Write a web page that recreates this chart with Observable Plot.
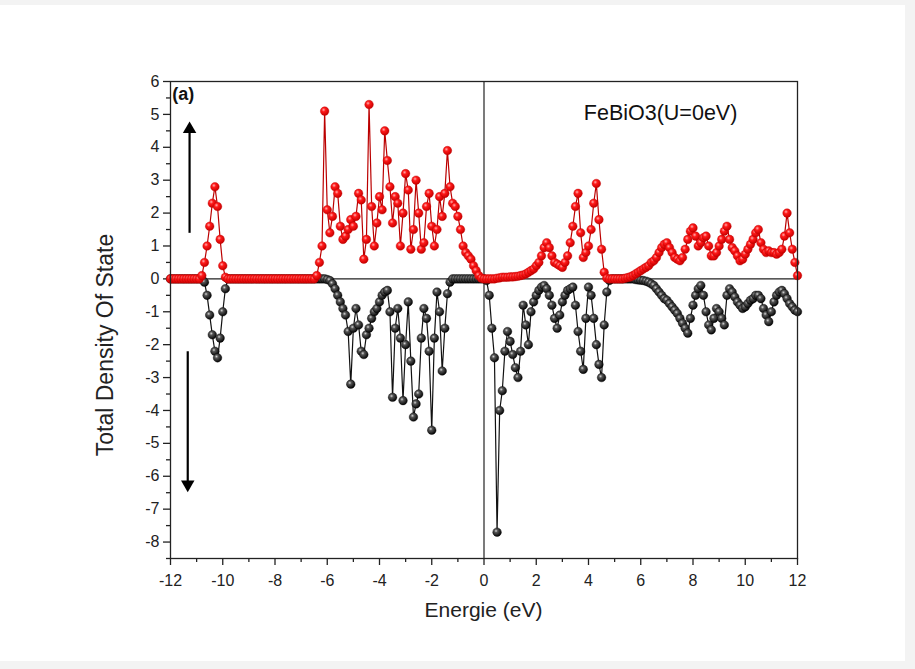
<!DOCTYPE html>
<html>
<head>
<meta charset="utf-8">
<script src="https://cdn.jsdelivr.net/npm/d3@7"></script>
<script src="https://cdn.jsdelivr.net/npm/@observablehq/plot@0.6"></script>
<style>
  html, body { margin: 0; padding: 0; background: #f3f3f3; }
  #wrap { position: absolute; left: 0; top: 5px; width: 905px; height: 656px; background: #fff; }
  svg { font-family: "Liberation Sans", Arial, sans-serif; }
</style>
</head>
<body>
<div id="wrap"></div>
<script>
// Energy grid (eV)
const energies = [
-12,-11.9,-11.8,-11.7,-11.6,-11.5,-11.4,-11.3,-11.2,-11.1,
-11,-10.9,-10.8,-10.7,-10.6,-10.5,-10.4,-10.3,-10.2,-10.1,
-10,-9.9,-9.8,-9.7,-9.6,-9.5,-9.4,-9.3,-9.2,-9.1,
-9,-8.9,-8.8,-8.7,-8.6,-8.5,-8.4,-8.3,-8.2,-8.1,
-8,-7.9,-7.8,-7.7,-7.6,-7.5,-7.4,-7.3,-7.2,-7.1,
-7,-6.9,-6.8,-6.7,-6.6,-6.5,-6.4,-6.3,-6.2,-6.1,
-6,-5.9,-5.8,-5.7,-5.6,-5.5,-5.4,-5.3,-5.2,-5.1,
-5,-4.9,-4.8,-4.7,-4.6,-4.5,-4.4,-4.3,-4.2,-4.1,
-4,-3.9,-3.8,-3.7,-3.6,-3.5,-3.4,-3.3,-3.2,-3.1,
-3,-2.9,-2.8,-2.7,-2.6,-2.5,-2.4,-2.3,-2.2,-2.1,
-2,-1.9,-1.8,-1.7,-1.6,-1.5,-1.4,-1.3,-1.2,-1.1,
-1,-0.9,-0.8,-0.7,-0.6,-0.5,-0.4,-0.3,-0.2,-0.1,
0,0.1,0.2,0.3,0.4,0.5,0.6,0.7,0.8,0.9,
1,1.1,1.2,1.3,1.4,1.5,1.6,1.7,1.8,1.9,
2,2.1,2.2,2.3,2.4,2.5,2.6,2.7,2.8,2.9,
3,3.1,3.2,3.3,3.4,3.5,3.6,3.7,3.8,3.9,
4,4.1,4.2,4.3,4.4,4.5,4.6,4.7,4.8,4.9,
5,5.1,5.2,5.3,5.4,5.5,5.6,5.7,5.8,5.9,
6,6.1,6.2,6.3,6.4,6.5,6.6,6.7,6.8,6.9,
7,7.1,7.2,7.3,7.4,7.5,7.6,7.7,7.8,7.9,
8,8.1,8.2,8.3,8.4,8.5,8.6,8.7,8.8,8.9,
9,9.1,9.2,9.3,9.4,9.5,9.6,9.7,9.8,9.9,
10,10.1,10.2,10.3,10.4,10.5,10.6,10.7,10.8,10.9,
11,11.1,11.2,11.3,11.4,11.5,11.6,11.7,11.8,11.9,
12
];

// Spin-up total DOS (red)
const spinUp = [
0,0,0,0,0,0,0,0,0,0,
0,0,0.1,0.5,1.0,1.6,2.3,2.8,2.2,1.2,
0.4,0.05,0,0,0,0,0,0,0,0,
0,0,0,0,0,0,0,0,0,0,
0,0,0,0,0,0,0,0,0,0,
0,0,0,0,0,0,0.1,0.5,1.0,5.1,
2.1,1.4,1.9,2.8,2.6,1.6,1.2,1.3,1.5,1.8,
1.6,1.9,2.6,2.4,0.6,1.2,5.3,2.2,1.0,1.7,
2.5,2.1,4.5,3.6,2.8,1.7,2.5,2.3,1.0,2.0,
3.2,2.7,0.9,1.5,3.0,2.0,0.9,1.1,2.2,2.6,
1.6,1.0,1.5,2.5,1.9,2.6,3.9,2.8,2.3,2.2,
1.9,1.5,1.0,0.8,0.7,0.6,0.4,0.25,0.1,0.02,
0,0,0,0,0,0.02,0.03,0.05,0.05,0.05,
0.06,0.06,0.07,0.08,0.1,0.12,0.15,0.2,0.25,0.3,
0.4,0.5,0.7,0.95,1.1,0.95,0.7,0.5,0.45,0.4,
0.35,0.5,0.7,1.1,1.6,2.2,2.6,1.4,0.65,0.8,
1.0,1.5,2.3,2.9,1.8,0.9,0.2,0.02,0,0,
0,0,0,0,0.02,0.04,0.06,0.1,0.15,0.2,
0.25,0.3,0.35,0.4,0.5,0.55,0.65,0.8,0.95,1.05,
1.1,0.95,0.8,0.65,0.6,0.55,0.65,0.9,1.2,1.45,
1.55,1.3,1.0,1.1,1.25,1.3,1.0,0.7,0.7,0.8,
1.0,1.2,1.45,1.6,1.2,0.95,0.85,0.7,0.55,0.6,
0.75,0.9,1.05,1.2,1.4,1.5,1.1,0.9,0.8,0.85,
0.8,0.8,0.75,0.8,0.9,1.3,2.0,1.4,0.9,0.5,
0.1
];

// Spin-down total DOS (black)
const spinDown = [
0,0,0,0,0,0,0,0,0,0,
0,0,0,-0.1,-0.5,-1.1,-1.7,-2.2,-2.4,-1.8,
-1.0,-0.3,0,0,0,0,0,0,0,0,
0,0,0,0,0,0,0,0,0,0,
0,0,0,0,0,0,0,0,0,0,
0,0,0,0,0,0,0,0,0,0,
-0.02,-0.05,-0.15,-0.3,-0.5,-0.7,-0.9,-1.1,-1.6,-3.2,
-1.5,-0.9,-1.4,-2.2,-2.3,-1.7,-1.5,-1.2,-1.0,-0.9,
-0.7,-0.5,-0.4,-0.35,-1.0,-3.6,-1.5,-0.9,-1.8,-3.7,
-2.0,-0.7,-2.5,-4.2,-3.8,-3.5,-1.8,-0.9,-1.2,-2.2,
-4.6,-1.8,-0.4,-1.0,-2.8,-1.5,-0.45,-0.1,0,0,
0,0,0,0,0,0,0,0,0,0,
0,-0.05,-0.5,-1.5,-2.4,-7.7,-4.0,-3.4,-2.2,-1.6,
-1.9,-2.3,-2.7,-3.0,-2.2,-0.8,-1.4,-2.0,-1.0,-0.7,
-0.5,-0.35,-0.25,-0.2,-0.3,-0.5,-0.8,-1.2,-1.5,-1.1,
-0.7,-0.5,-0.35,-0.3,-0.25,-0.8,-1.6,-2.2,-2.75,-1.2,
-0.25,-0.5,-1.2,-2.0,-2.6,-3.0,-1.4,-0.4,-0.05,0,
0,0,0,0,0,0,0,0,-0.02,-0.03,
-0.04,-0.05,-0.07,-0.1,-0.15,-0.2,-0.3,-0.4,-0.5,-0.6,
-0.65,-0.75,-0.85,-0.95,-1.05,-1.2,-1.35,-1.5,-1.65,-1.2,
-0.8,-0.5,-0.3,-0.2,-0.5,-1.0,-1.4,-1.55,-1.2,-0.9,
-1.0,-1.2,-1.4,-0.5,-0.3,-0.4,-0.55,-0.7,-0.8,-0.9,
-0.85,-0.75,-0.65,-0.6,-0.5,-0.5,-0.6,-0.9,-1.1,-1.3,
-1.0,-0.7,-0.5,-0.4,-0.35,-0.45,-0.6,-0.75,-0.85,-0.95,
-1.0
];

// Axis ticks
const xTicks = [-12,-10,-8,-6,-4,-2,0,2,4,6,8,10,12];
const xMinorTicks = [-11,-9,-7,-5,-3,-1,1,3,5,7,9,11];
const yTicks = [-8,-7,-6,-5,-4,-3,-2,-1,0,1,2,3,4,5,6];
const yMinorTicks = [-8.5,-7.5,-6.5,-5.5,-4.5,-3.5,-2.5,-1.5,-0.5,0.5,1.5,2.5,3.5,4.5,5.5];

// Spin arrows (data coordinates)
const arrowX = [-11.27, -11.34];
const arrowFrom = [1.4, -2.2];
const arrowTo = [4.55, -6.25];

// Texts
const panelLabel = "(a)";
const systemLabel = "FeBiO3(U=0eV)";
const xTitle = "Energie (eV)";
const yTitle = "Total Density Of State";

const upData = energies.map((e, i) => ({e, d: spinUp[i]}));
const downData = energies.map((e, i) => ({e, d: spinDown[i]}));
const arrows = arrowX.map((x, i) => ({x, y1: arrowFrom[i], y2: arrowTo[i]}));

const fmt = d => String(d);

const chart = Plot.plot({
  width: 905,
  height: 656,
  marginLeft: 170,
  marginRight: 108,
  marginTop: 76,
  marginBottom: 103,
  style: {fontFamily: "'Liberation Sans', Arial, sans-serif", fontSize: "16px", color: "#222", background: "#fff"},
  x: {domain: [-12, 12]},
  y: {domain: [-8.5, 6]},
  marks: [
    Plot.ruleX([0], {stroke: "#222", strokeWidth: 1.2}),
    Plot.ruleY([0], {stroke: "#222", strokeWidth: 1.2}),
    Plot.axisX({ticks: xTicks, tickSize: 7, tickPadding: 9, tickFormat: fmt, label: null, strokeWidth: 1.3}),
    Plot.axisX({ticks: xMinorTicks, tickSize: 4, tickFormat: () => "", label: null, strokeWidth: 1.3}),
    Plot.axisY({ticks: yTicks, tickSize: 7, tickPadding: 4, tickFormat: fmt, label: null, strokeWidth: 1.3}),
    Plot.axisY({ticks: yMinorTicks, tickSize: 4, tickFormat: () => "", label: null, strokeWidth: 1.3}),
    Plot.line(downData, {x: "e", y: "d", stroke: "#111", strokeWidth: 1.2}),
    Plot.dot(downData, {x: "e", y: "d", r: 4.3, fill: "url(#gBlack)", stroke: "#000", strokeWidth: 0.4}),
    Plot.line(upData, {x: "e", y: "d", stroke: "#b00", strokeWidth: 1.2}),
    Plot.dot(upData, {x: "e", y: "d", r: 4.3, fill: "url(#gRed)", stroke: "#c00000", strokeWidth: 0.4}),
    Plot.frame({stroke: "#222", strokeWidth: 1.3}),
    Plot.link(arrows, {x1: "x", y1: "y1", x2: "x", y2: "y2", stroke: "#000", strokeWidth: 2.2}),
    Plot.dot(arrows, {x: "x", y: "y2", symbol: "triangle", r: 5, fill: "#000", stroke: "none",
      rotate: d => (d.y2 > d.y1 ? 0 : 180)}),
    Plot.text([panelLabel], {x: -11.93, y: 5.6, text: d => d, textAnchor: "start", fontWeight: "bold", fontSize: 18, fill: "#111"}),
    Plot.text([systemLabel], {x: 3.82, y: 5.05, text: d => d, textAnchor: "start", fontSize: 21.5, fill: "#111"})
  ]
});

// Sphere-like gradients for the markers
const svg = d3.select(chart);
const defs = svg.insert("defs", ":first-child");
const gR = defs.append("radialGradient").attr("id", "gRed").attr("cx", "38%").attr("cy", "35%").attr("r", "65%");
gR.append("stop").attr("offset", "0%").attr("stop-color", "#ffb0b0");
gR.append("stop").attr("offset", "35%").attr("stop-color", "#ff1a1a");
gR.append("stop").attr("offset", "100%").attr("stop-color", "#c80000");
const gB = defs.append("radialGradient").attr("id", "gBlack").attr("cx", "38%").attr("cy", "35%").attr("r", "65%");
gB.append("stop").attr("offset", "0%").attr("stop-color", "#d8d8d8");
gB.append("stop").attr("offset", "30%").attr("stop-color", "#555");
gB.append("stop").attr("offset", "100%").attr("stop-color", "#050505");

// Axis titles
svg.append("text")
  .attr("transform", "translate(107,340) rotate(-90)")
  .attr("text-anchor", "middle").attr("dominant-baseline", "middle")
  .style("font-size", "23px").style("fill", "#222")
  .text(yTitle);
svg.append("text")
  .attr("x", 483.5).attr("y", 606)
  .attr("text-anchor", "middle").attr("dominant-baseline", "middle")
  .style("font-size", "21px").style("fill", "#222")
  .text(xTitle);

document.getElementById("wrap").appendChild(chart);
</script>
</body>
</html>
